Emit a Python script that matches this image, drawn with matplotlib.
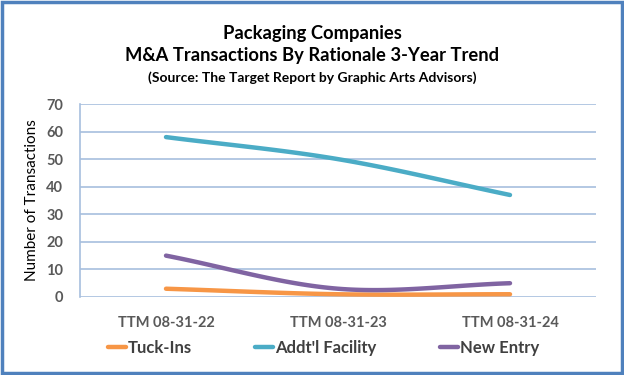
import numpy as np
import matplotlib
matplotlib.use("Agg")
import matplotlib.pyplot as plt
from matplotlib.patches import Rectangle
from matplotlib.lines import Line2D

plt.rcParams['font.family'] = ['Lato', 'DejaVu Sans']

categories = ["TTM 08-31-22", "TTM 08-31-23", "TTM 08-31-24"]
tuck_ins = [3, 1, 1]
addtl_facility = [58, 50, 37]
new_entry = [15, 3, 5]
series_names = ["Tuck-Ins", "Addt'l Facility", "New Entry"]
colors = ["#F79646", "#4BACC6", "#8064A2"]


def smooth(x, y, n=40):
    x = np.asarray(x, float)
    y = np.asarray(y, float)
    px = np.concatenate([[2 * x[0] - x[1]], x, [2 * x[-1] - x[-2]]])
    py = np.concatenate([[2 * y[0] - y[1]], y, [2 * y[-1] - y[-2]]])
    xs, ys = [], []
    for i in range(1, len(px) - 2):
        t = np.linspace(0, 1, n)
        p0, p1, p2, p3 = [np.array([px[j], py[j]]) for j in range(i - 1, i + 3)]
        t2, t3 = t * t, t * t * t
        pts = 0.5 * ((2 * p1)[:, None] + (-p0 + p2)[:, None] * t +
                     (2 * p0 - 5 * p1 + 4 * p2 - p3)[:, None] * t2 +
                     (-p0 + 3 * p1 - 3 * p2 + p3)[:, None] * t3)
        xs.append(pts[0])
        ys.append(pts[1])
    return np.concatenate(xs), np.concatenate(ys)


fig = plt.figure(figsize=(6.24, 3.75), dpi=100)
ax = fig.add_axes([80 / 624, 1 - 297 / 375, 516 / 624, 193 / 375])

x = np.arange(len(categories))
for vals, c in zip([tuck_ins, addtl_facility, new_entry], colors):
    sx, sy = smooth(x, vals)
    ax.plot(sx, sy, color=c, lw=3.2, solid_capstyle='round', zorder=3)

ax.set_xlim(-0.5, 2.5)
ax.set_ylim(0, 70)
ax.set_yticks(range(0, 71, 10))
ax.yaxis.grid(True, color="#A7BFDE", lw=1.2)
ax.set_axisbelow(True)
for s in ["top", "right", "bottom"]:
    ax.spines[s].set_visible(False)
ax.spines["left"].set_color("#A7BFDE")
ax.spines["left"].set_linewidth(1.2)
ax.tick_params(axis='both', length=0)
ax.set_xticks(x)
ax.set_xticklabels(categories, fontsize=10.5, fontweight='bold', color="#595959")
ax.tick_params(axis='x', pad=14)
ax.tick_params(axis='y', pad=12)
for lab in ax.get_yticklabels():
    lab.set_fontsize(10.5)
    lab.set_fontweight('bold')
    lab.set_color("#595959")
ax.set_ylabel("Number of Transactions", fontsize=11, color="#000000", labelpad=5)

fig.text(0.5, 1 - 33 / 375, "Packaging Companies", ha='center', va='center',
         fontsize=13.2, fontweight='bold', color="#000000")
fig.text(0.5, 1 - 56 / 375, "M&A Transactions By Rationale 3-Year Trend", ha='center',
         va='center', fontsize=13.2, fontweight='bold', color="#000000")
fig.text(0.5, 1 - 78 / 375, "(Source: The Target Report by Graphic Arts Advisors)",
         ha='center', va='center', fontsize=10, fontweight='bold', color="#000000")

handles = [Line2D([], [], color=c, lw=3.2, solid_capstyle='round') for c in colors]
leg = fig.legend(handles, series_names, loc='center', bbox_to_anchor=(0.518, 1 - 348 / 375),
                 ncol=3, frameon=False, fontsize=12, handlelength=1.1, handletextpad=0.1,
                 columnspacing=3.8)
for t in leg.get_texts():
    t.set_fontweight('bold')
    t.set_color("#404040")

fig.patches.append(Rectangle((0.004, 0.006), 0.992, 0.988, transform=fig.transFigure,
                             fill=False, edgecolor="#4F81BD", lw=2.5))

fig.savefig("out.png", dpi=100)
